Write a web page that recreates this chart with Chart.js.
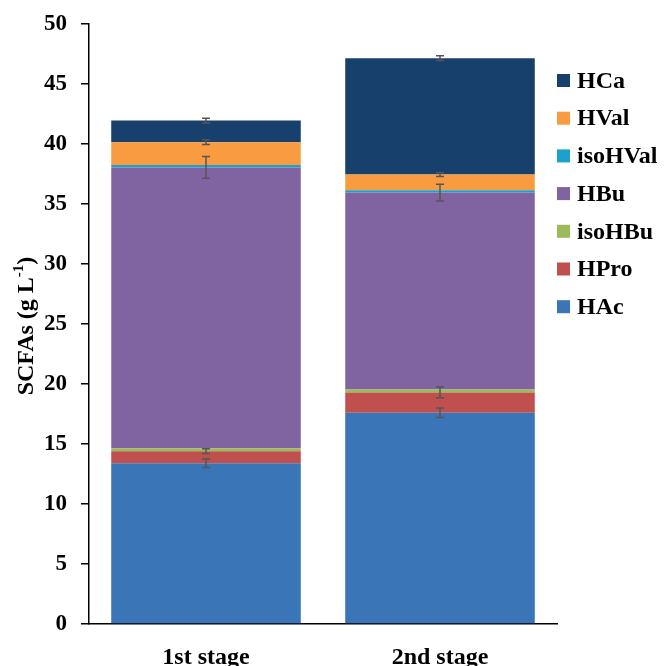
<!DOCTYPE html>
<html>
<head>
<meta charset="utf-8">
<script src="https://cdn.jsdelivr.net/npm/chart.js@4.4.1/dist/chart.umd.min.js"></script>
<style>
  html, body { margin: 0; padding: 0; background: #fff; }
  #wrap { width: 667px; height: 666px; position: relative; }
</style>
</head>
<body>
<div id="wrap"><canvas id="c" width="667" height="666"></canvas></div>
<script>
// ---- data ----
const categories = ["1st stage", "2nd stage"];
const seriesNames = ["HAc", "HPro", "isoHBu", "HBu", "isoHVal", "HVal", "HCa"];
const HAc     = [13.4, 17.6];
const HPro    = [1.0, 1.7];
const isoHBu  = [0.25, 0.25];
const HBu     = [23.4, 16.4];
const isoHVal = [0.2, 0.2];
const HVal    = [1.9, 1.3];
const HCa     = [1.8, 9.7];
// standard deviations (error bars at top of each segment; null = none)
const errHAc     = [0.35, 0.4];
const errHPro    = [0.2, 0.45];
const errIsoHBu  = [null, null];
const errHBu     = [0.9, 0.7];
const errIsoHVal = [null, null];
const errHVal    = [0.2, 0.15];
const errHCa     = [0.2, 0.2];
const yTicks = [0, 5, 10, 15, 20, 25, 30, 35, 40, 45, 50];

const seriesValues = [HAc, HPro, isoHBu, HBu, isoHVal, HVal, HCa];
const seriesErrors = [errHAc, errHPro, errIsoHBu, errHBu, errIsoHVal, errHVal, errHCa];
const seriesColors = ["#3A75B7", "#C0504D", "#9BBB59", "#8064A2", "#1AA1CC", "#F99B41", "#17406D"];

const SERIF = '"Liberation Serif", "Times New Roman", serif';

const datasets = seriesNames.map((n, i) => ({
  label: n,
  data: seriesValues[i],
  errors: seriesErrors[i],
  backgroundColor: seriesColors[i],
  borderWidth: 0,
  categoryPercentage: 0.81,
  barPercentage: 1.0
}));

const errorBarPlugin = {
  id: 'errorBars',
  afterDatasetsDraw(chart) {
    const ctx = chart.ctx;
    const y = chart.scales.y;
    const nCat = categories.length;
    const cum = new Array(nCat).fill(0);
    ctx.save();
    ctx.strokeStyle = '#555555';
    ctx.lineWidth = 1.5;
    chart.data.datasets.forEach((ds, di) => {
      const meta = chart.getDatasetMeta(di);
      for (let i = 0; i < nCat; i++) {
        cum[i] += ds.data[i];
        const e = ds.errors[i];
        if (e == null) continue;
        const x = meta.data[i].x;
        const yTop = y.getPixelForValue(cum[i] + e);
        const yBot = y.getPixelForValue(cum[i] - e);
        const cw = 4;
        ctx.beginPath();
        ctx.moveTo(x, yTop); ctx.lineTo(x, yBot);
        ctx.moveTo(x - cw, yTop); ctx.lineTo(x + cw, yTop);
        ctx.moveTo(x - cw, yBot); ctx.lineTo(x + cw, yBot);
        ctx.stroke();
      }
    });
    ctx.restore();
  }
};

const legendAndTitlePlugin = {
  id: 'customLegend',
  afterDraw(chart) {
    const ctx = chart.ctx;
    ctx.save();
    // legend, reversed order (top = last dataset)
    const x0 = 557, yStart = 80.5, step = 37.7, box = 13;
    ctx.font = 'bold 24px ' + SERIF;
    ctx.textBaseline = 'middle';
    ctx.textAlign = 'left';
    const ds = chart.data.datasets.slice().reverse();
    ds.forEach((d, k) => {
      const cy = yStart + k * step;
      ctx.fillStyle = d.backgroundColor;
      ctx.fillRect(x0, cy - box / 2, box, box);
      ctx.fillStyle = '#000';
      ctx.fillText(d.label, x0 + 20, cy + 1);
    });
    ctx.restore();
    // y-axis title with superscript
    ctx.save();
    ctx.translate(24, 326);
    ctx.rotate(-Math.PI / 2);
    const big = 'bold 24px ' + SERIF, small = 'bold 15px ' + SERIF;
    const p1 = 'SCFAs (g L', p2 = '-1', p3 = ')';
    ctx.font = big; const w1 = ctx.measureText(p1).width; const w3 = ctx.measureText(p3).width;
    ctx.font = small; const w2 = ctx.measureText(p2).width;
    let sx = -(w1 + w2 + w3) / 2;
    ctx.textBaseline = 'alphabetic';
    ctx.textAlign = 'left';
    ctx.fillStyle = '#000';
    ctx.font = big; ctx.fillText(p1, sx, 9); sx += w1;
    ctx.font = small; ctx.fillText(p2, sx, -1); sx += w2;
    ctx.font = big; ctx.fillText(p3, sx, 9);
    ctx.restore();
  }
};

new Chart(document.getElementById('c'), {
  type: 'bar',
  data: { labels: categories, datasets },
  options: {
    responsive: false,
    animation: false,
    events: [],
    layout: { padding: { top: 24, right: 110, left: 0, bottom: 0 } },
    plugins: { legend: { display: false }, tooltip: { enabled: false } },
    scales: {
      x: {
        stacked: true,
        offset: true,
        grid: { display: false, drawTicks: false },
        border: { display: true, color: '#000', width: 1.5 },
        ticks: { color: '#000', font: { family: SERIF, size: 24, weight: 'bold' }, padding: 19 },
        afterFit(scale) { scale.height = 42; scale.paddingLeft = 0; scale.paddingRight = 0; }
      },
      y: {
        stacked: true,
        min: 0, max: 50,
        afterBuildTicks(scale) { scale.ticks = yTicks.map(v => ({ value: v })); },
        grid: { display: true, drawOnChartArea: false, drawTicks: true, tickLength: 8, color: '#000', lineWidth: 1.5 },
        border: { display: true, color: '#000', width: 1.5 },
        ticks: { color: '#000', font: { family: SERIF, size: 23, weight: 'bold' }, padding: 14 },
        afterFit(scale) { scale.width = 89; scale.paddingTop = 0; scale.paddingBottom = 0; }
      }
    }
  },
  plugins: [errorBarPlugin, legendAndTitlePlugin]
});
</script>
</body>
</html>
